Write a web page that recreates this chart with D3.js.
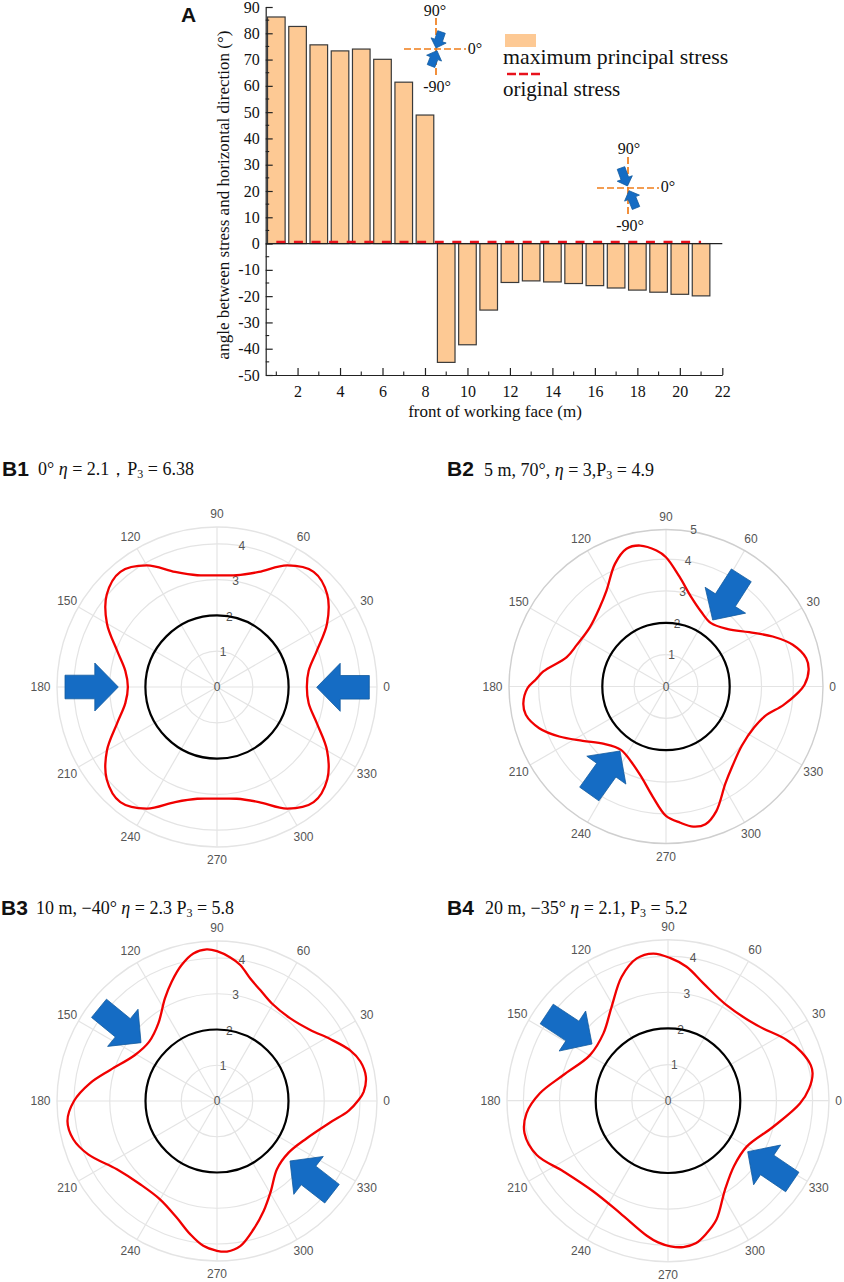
<!DOCTYPE html>
<html>
<head>
<style type="text/css">
html, body { margin: 0; padding: 0; background: #fff; }
svg { display: block; }
.serif { font-family: "Liberation Serif", serif; fill: #111; }
.plab { font-family: "Liberation Sans", sans-serif; font-weight: bold; fill: #111; font-size: 21px; }
.pol { font-family: "Liberation Sans", sans-serif; fill: #555; font-size: 12px; text-anchor: middle; dominant-baseline: central; }
</style>
<script src="https://d3js.org/d3.v7.min.js"></script>
</head>
<body>
<script type="text/javascript">
// panel A
var faceDist = [1,2,3,4,5,6,7,8,9,10,11,12,13,14,15,16,17,18,19,20,21];
var maxPrincipal = [86.2,82.6,75.6,73.3,74,70.1,61.4,48.9,-45.2,-38.5,-25.3,-14.8,-14.2,-14.6,-15.2,-16,-16.9,-17.7,-18.5,-19.3,-19.9];
var originalStress = [0.6,0.6,0.6,0.6,0.6,0.6,0.6,0.6,0.6,0.6,0.6,0.6,0.6,0.6,0.6,0.6,0.6,0.6,0.6,0.6,0.6];
var xTickVals = [2,4,6,8,10,12,14,16,18,20,22];
var xMinorVals = [1,3,5,7,9,11,13,15,17,19,21];
var yTickVals = [-50,-40,-30,-20,-10,0,10,20,30,40,50,60,70,80,90];
var yMinorVals = [-45,-35,-25,-15,-5,5,15,25,35,45,55,65,75,85];

// panels B: angle (deg) and radius
var b1Angle = [0,10,20,30,40,50,60,70,80,90,100,110,120,130,140,150,160,170,180,190,200,210,220,230,240,250,260,270,280,290,300,310,320,330,340,350];
var b1Radius = [2.51,2.6,2.97,3.55,4.02,4.2,3.92,3.42,3.17,3.12,3.17,3.42,3.92,4.2,4.02,3.55,2.97,2.6,2.49,2.6,2.97,3.55,4.02,4.2,3.92,3.42,3.17,3.12,3.17,3.42,3.92,4.2,4.02,3.55,2.97,2.6];
var b2Angle = [0.7,6.7,11.4,18.2,25.1,33.1,42.9,54.6,65,74.5,83.1,90,94,100.4,106,112.6,121.7,130,142,155,163.5,173,177,180.7,186.7,191.4,198.2,205.1,213.1,222.9,234.6,245,254.5,263.1,270,276,281,286,292,301.5,310,322,335,343.5,351,357];
var b2Radius = [4.35,4.51,4.49,4.19,3.7,3.12,2.65,2.44,2.6,2.93,3.48,4.06,4.28,4.5,4.5,4.17,3.55,3.24,3.03,3.09,3.25,3.88,4.1,4.35,4.51,4.49,4.19,3.7,3.12,2.65,2.44,2.6,2.93,3.48,4.06,4.3,4.48,4.5,4.22,3.57,3.25,3.02,3.05,3.25,3.73,4.13];
var b3Angle = [0.4,3.6,9.3,15.4,20.7,28.7,37.3,48.4,60.6,68.7,74.8,80.3,84.7,90,93.9,99.1,104.6,110.8,116.9,127.1,138.8,150.7,163.8,172.1,180,187.6,194.9,202.5,214.3,227.3,239.9,250.9,258.6,264.6,270,273.8,279.1,285.9,293,301,311.3,324.2,337.5,349.2,355.7];
var b3Radius = [3.96,4.11,4.22,4.16,3.99,3.61,3.28,3.09,3.13,3.33,3.55,3.86,4.03,4.19,4.25,4.18,3.93,3.57,3.22,2.72,2.52,2.63,3.11,3.59,4,4.22,4.16,3.9,3.39,3.17,3.18,3.45,3.8,4.07,4.19,4.22,4.11,3.73,3.34,2.93,2.54,2.47,2.72,3.22,3.69];
var b4Angle = [5,10.7,14,20,27.1,40.5,58.5,73.2,82.1,89.2,95.7,102.4,110.5,121,133.8,149.7,166.2,176.7,185.1,192.8,202.5,214.1,230.6,246.9,261.1,266,271,276,281,286,292.2,302.5,315.3,329.7,346.1,358.8];
var b4Radius = [3.92,4.07,4.07,3.93,3.69,3.22,3.1,3.39,3.74,3.95,4.09,4.03,3.66,3.03,2.58,2.5,2.98,3.55,3.93,4.07,3.93,3.49,3.25,3.38,3.78,3.93,4.03,4.07,4.02,3.83,3.55,2.93,2.57,2.52,3,3.65];
var thetaTicks = [0,30,60,90,120,150,180,210,240,270,300,330];
var holeRadius = 2;

var width = 844, height = 1282;
var svg = d3.select("body").append("svg").attr("width", width).attr("height", height);

// ---------- panel A ----------
var x = d3.scaleLinear().domain([0.5, 22]).range([265.7, 722.3]);
var y = d3.scaleLinear().domain([-50, 90]).range([375, 7]);
var gA = svg.append("g");

gA.selectAll("rect.bar").data(faceDist).enter().append("rect")
	.attr("class", "bar")
	.attr("x", function(d) { return x(d) - 8.8; })
	.attr("width", 17.6)
	.attr("y", function(d, i) { return Math.min(y(maxPrincipal[i]), y(0)); })
	.attr("height", function(d, i) { return Math.abs(y(maxPrincipal[i]) - y(0)); })
	.attr("fill", "#fdc994")
	.attr("stroke", "#3a3a3a")
	.attr("stroke-width", 1.2);

var stressLine = d3.line()
	.x(function(d) { return x(d); })
	.y(function(d, i) { return y(originalStress[i]); });
gA.append("path").datum(faceDist)
	.attr("d", stressLine)
	.attr("fill", "none")
	.attr("stroke", "#e8121c")
	.attr("stroke-width", 2.4)
	.attr("stroke-dasharray", "9 8.6");

// axes: ticks point inward like the origin plot
var axX = gA.append("g").attr("transform", "translate(0," + y(-50) + ")")
	.call(d3.axisBottom(x).tickValues(xTickVals).tickFormat(String).tickSizeInner(-7).tickSizeOuter(0).tickPadding(11));
var axY = gA.append("g").attr("transform", "translate(" + x(0.5) + ",0)")
	.call(d3.axisLeft(y).tickValues(yTickVals).tickFormat(String).tickSizeInner(-7).tickSizeOuter(0).tickPadding(6));
[axX, axY].forEach(function(a) {
	a.selectAll("text").attr("class", "serif").style("font-size", "16px").attr("fill", "#111");
	a.selectAll("line,path").attr("stroke", "#222").attr("stroke-width", 1.2);
});
gA.selectAll("line.mx").data(xMinorVals).enter().append("line")
	.attr("x1", function(d) { return x(d); }).attr("x2", function(d) { return x(d); })
	.attr("y1", y(-50)).attr("y2", y(-50) - 3.5)
	.attr("stroke", "#222").attr("stroke-width", 1.1);
gA.selectAll("line.my").data(yMinorVals).enter().append("line")
	.attr("y1", function(d) { return y(d); }).attr("y2", function(d) { return y(d); })
	.attr("x1", x(0.5)).attr("x2", x(0.5) + 3.5)
	.attr("stroke", "#222").attr("stroke-width", 1.1);
// zero line
gA.append("line").attr("x1", x(0.5)).attr("x2", x(22)).attr("y1", y(0)).attr("y2", y(0))
	.attr("stroke", "#222").attr("stroke-width", 1.3);

gA.append("text").attr("class", "serif").attr("x", 495).attr("y", 417)
	.attr("text-anchor", "middle").style("font-size", "17px").text("front of working face (m)");
gA.append("text").attr("class", "serif")
	.attr("transform", "translate(229,195) rotate(-90)")
	.attr("text-anchor", "middle").style("font-size", "17px")
	.text("angle between stress and horizontal direction (°)");
svg.append("text").attr("class", "plab").attr("x", 181).attr("y", 22).text("A");

// legend
gA.append("rect").attr("x", 505).attr("y", 34).attr("width", 31).attr("height", 13).attr("fill", "#fdc994");
gA.append("text").attr("class", "serif").attr("x", 503).attr("y", 64).style("font-size", "21.8px").text("maximum principal stress");
gA.append("line").attr("x1", 507).attr("x2", 541).attr("y1", 74).attr("y2", 74)
	.attr("stroke", "#e8121c").attr("stroke-width", 2.4).attr("stroke-dasharray", "9 3");
gA.append("text").attr("class", "serif").attr("x", 503).attr("y", 96).style("font-size", "21px").text("original stress");

function blockArrow(sel, a, headHalf, shaftHalf, headLen, fill, edge) {
	var dx = a.tail[0] - a.tip[0], dy = a.tail[1] - a.tip[1];
	var len = Math.sqrt(dx * dx + dy * dy), ux = dx / len, uy = dy / len, nx = -uy, ny = ux;
	var p = d3.path();
	function pt(along, side) { return [a.tip[0] + ux * along + nx * side, a.tip[1] + uy * along + ny * side]; }
	var s = [pt(headLen, headHalf), pt(headLen, shaftHalf), pt(len, shaftHalf), pt(len, -shaftHalf), pt(headLen, -shaftHalf), pt(headLen, -headHalf)];
	p.moveTo(a.tip[0], a.tip[1]);
	s.forEach(function(q) { p.lineTo(q[0], q[1]); });
	p.closePath();
	sel.append("path").attr("d", p.toString()).attr("fill", fill).attr("stroke", edge).attr("stroke-width", 0.8);
}

// little direction insets
var insets = [
	{cx: 436, cy: 49, hx: [404, 466], vy: [18, 78], t90: [435, 16], t0: [475, 54], tm90: [437, 92],
	 arrows: [{tip: [436, 48], tail: [441.5, 32]}, {tip: [437, 50.7], tail: [431, 66]}]},
	{cx: 628, cy: 188, hx: [597, 659], vy: [157, 217], t90: [629, 154], t0: [668, 192], tm90: [630, 231],
	 arrows: [{tip: [627.5, 186], tail: [621, 168]}, {tip: [629, 190.7], tail: [636, 208]}]}
];
insets.forEach(function(n) {
	var g = svg.append("g");
	g.append("line").attr("x1", n.hx[0]).attr("x2", n.hx[1]).attr("y1", n.cy).attr("y2", n.cy)
		.attr("stroke", "#f07d1a").attr("stroke-width", 1.7).attr("stroke-dasharray", "7 3");
	g.append("line").attr("x1", n.cx).attr("x2", n.cx).attr("y1", n.vy[0]).attr("y2", n.vy[1])
		.attr("stroke", "#f07d1a").attr("stroke-width", 1.7).attr("stroke-dasharray", "7 3");
	n.arrows.forEach(function(a) { blockArrow(g, a, 8, 4, 8, "#156cc4", "#125a9e"); });
	[[n.t90, "90°"], [n.t0, "0°"], [n.tm90, "-90°"]].forEach(function(t) {
		g.append("text").attr("class", "serif").attr("x", t[0][0]).attr("y", t[0][1])
			.attr("text-anchor", "middle").style("font-size", "16px").text(t[1]);
	});
});

// ---------- panels B ----------
var angleScale = d3.scaleLinear().domain([0, 360]).range([0, 2 * Math.PI]);

var panels = [
	{label: "B1", lx: 2, ly: 476, tx: 38, ty: 475, cx: 217, cy: 687, hole: 71.6, outer: 160, ticks: [0,1,2,3,4],
	 angle: b1Angle, radius: b1Radius, ring: "#e4e4e4", outerRing: "#e4e4e4",
	 title: [["0° "], ["η", "i"], [" = 2.1，P"], ["3", "s"], [" = 6.38"]],
	 arrows: [{tip: [118.3, 687], tail: [65, 687]}, {tip: [316.7, 687.3], tail: [369.3, 687.3]}]},
	{label: "B2", lx: 447, ly: 476, tx: 484, ty: 476, cx: 666, cy: 686.5, hole: 63.7, outer: 157, ticks: [0,1,2,3,4,5],
	 angle: b2Angle, radius: b2Radius, ring: "#e4e4e4", outerRing: "#cfcfcf",
	 title: [["5 m, 70°, "], ["η", "i"], [" = 3,P"], ["3", "s"], [" = 4.9"]],
	 arrows: [{tip: [712.7, 620], tail: [741.3, 575.3]}, {tip: [620, 751], tail: [589.3, 794]}]},
	{label: "B3", lx: 1, ly: 915, tx: 36, ty: 914, cx: 217, cy: 1101, hole: 71.5, outer: 160, ticks: [0,1,2,3,4],
	 angle: b3Angle, radius: b3Radius, ring: "#e4e4e4", outerRing: "#e4e4e4",
	 title: [["10 m, −40° "], ["η", "i"], [" = 2.3 P"], ["3", "s"], [" = 5.8"]],
	 arrows: [{tip: [141, 1042.7], tail: [99, 1008.3]}, {tip: [290, 1161], tail: [332, 1193.7]}]},
	{label: "B4", lx: 447, ly: 915, tx: 485, ty: 914, cx: 668, cy: 1100.7, hole: 72.3, outer: 161, ticks: [0,1,2,3,4],
	 angle: b4Angle, radius: b4Radius, ring: "#e4e4e4", outerRing: "#e4e4e4",
	 title: [["20 m, −35° "], ["η", "i"], [" = 2.1, P"], ["3", "s"], [" = 5.2"]],
	 arrows: [{tip: [592, 1044], tail: [546.7, 1014]}, {tip: [747.7, 1151.7], tail: [792.3, 1182]}]}
];

panels.forEach(function(pn) {
	svg.append("text").attr("class", "plab").attr("x", pn.lx).attr("y", pn.ly).text(pn.label);
	var tt = svg.append("text").attr("class", "serif").attr("x", pn.tx).attr("y", pn.ty).style("font-size", "18px");
	pn.title.forEach(function(part, i) {
		var s = tt.append("tspan").text(part[0]);
		if (part[1] === "i") s.style("font-style", "italic");
		if (part[1] === "s") s.style("font-size", "12px").attr("dy", 3);
		if (i === 4) s.attr("dy", -3);
	});

	var r = d3.scaleLinear().domain([0, holeRadius]).range([0, pn.hole]);
	var g = svg.append("g").attr("transform", "translate(" + pn.cx + "," + pn.cy + ")");

	g.selectAll("line.spoke").data(thetaTicks).enter().append("line")
		.attr("x1", 0).attr("y1", 0)
		.attr("x2", function(d) { return pn.outer * Math.cos(angleScale(d)); })
		.attr("y2", function(d) { return -pn.outer * Math.sin(angleScale(d)); })
		.attr("stroke", pn.ring).attr("stroke-width", 1.2);
	g.selectAll("circle.ring").data(pn.ticks.filter(function(d) { return d > 0 && r(d) < pn.outer - 2; })).enter().append("circle")
		.attr("r", function(d) { return r(d); })
		.attr("fill", "none").attr("stroke", pn.ring).attr("stroke-width", 1.2);
	g.append("circle").attr("r", pn.outer).attr("fill", "none").attr("stroke", pn.outerRing).attr("stroke-width", 1.4);

	g.selectAll("text.theta").data(thetaTicks).enter().append("text")
		.attr("class", "pol")
		.attr("x", function(d) { return (pn.outer + 13) * Math.cos(angleScale(d)) - (d === 180 || d === 0 ? 3.5 : 0); })
		.attr("y", function(d) { return -(pn.outer + 13) * Math.sin(angleScale(d)); })
		.text(function(d) { return d; });
	g.selectAll("text.rad").data(pn.ticks).enter().append("text")
		.attr("class", "pol")
		.attr("x", function(d) { return r(d) * Math.cos(angleScale(80)); })
		.attr("y", function(d) { return -r(d) * Math.sin(angleScale(80)); })
		.text(function(d) { return d; });

	g.append("circle").attr("r", r(holeRadius)).attr("fill", "none").attr("stroke", "#000").attr("stroke-width", 2.2);

	// lineRadial measures from 12 o'clock, clockwise
	var curve = d3.lineRadial()
		.angle(function(d, i) { return Math.PI / 2 - angleScale(pn.angle[i]); })
		.radius(function(d, i) { return r(pn.radius[i]); })
		.curve(d3.curveCatmullRomClosed.alpha(0.5));
	g.append("path").datum(pn.angle).attr("d", curve)
		.attr("fill", "none").attr("stroke", "#f00000").attr("stroke-width", 2.3);

	pn.arrows.forEach(function(a) { blockArrow(svg, a, 24, 11.8, 23.5, "#156cc4", "#125a9e"); });
});
</script>
</body>
</html>
